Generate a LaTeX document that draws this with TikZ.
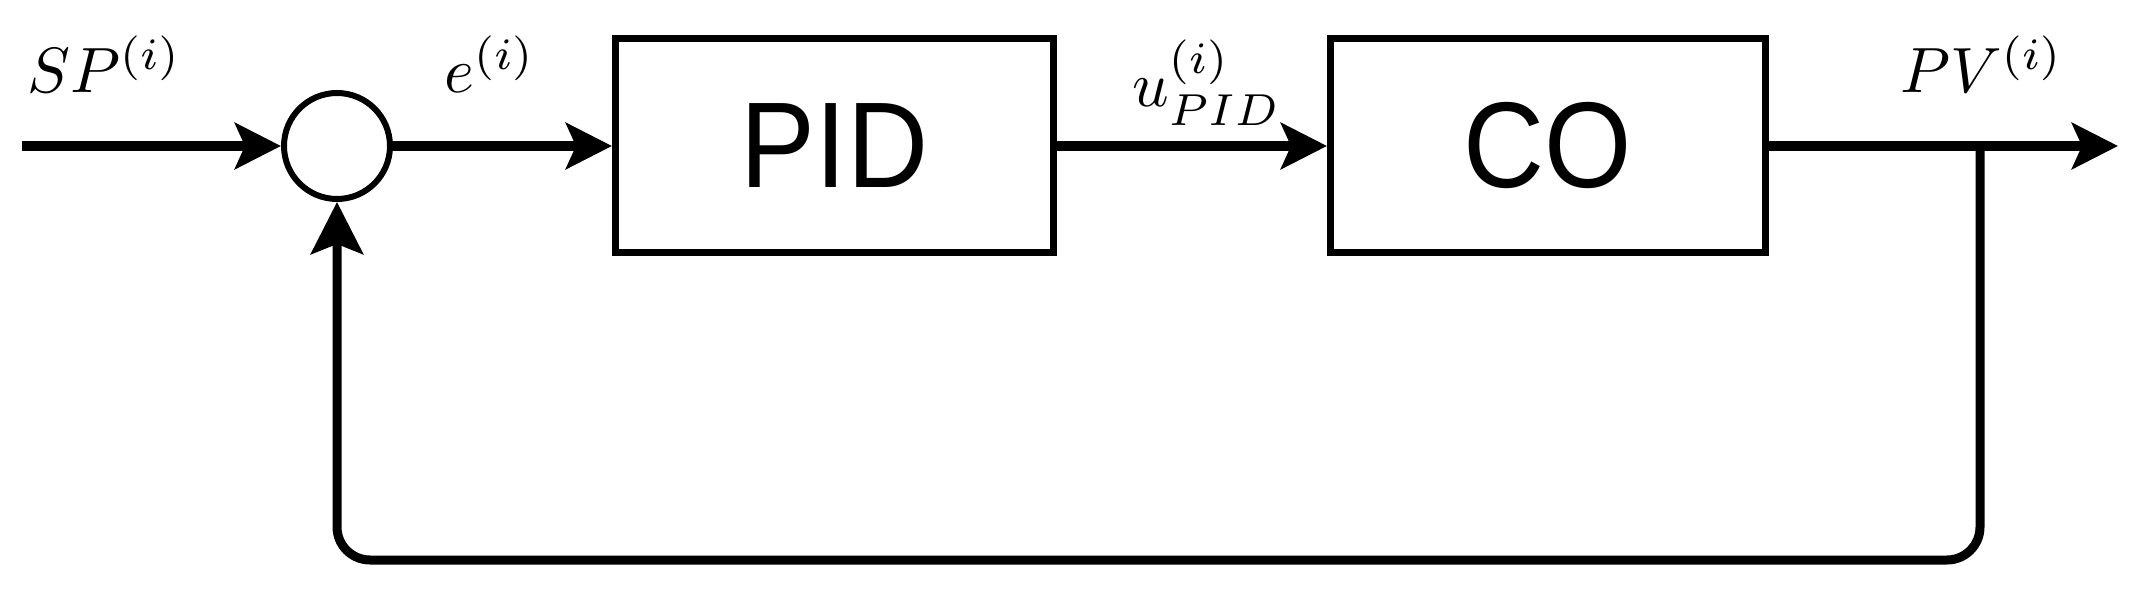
\documentclass[tikz,border=0pt]{standalone}
\usepackage{fontspec}
\newfontfamily\boxfont{Liberation Sans}
\usetikzlibrary{arrows.meta}
\tikzset{
  blk/.style={draw, line width=7pt, minimum width=438pt, minimum height=214pt, inner sep=0pt,
              font=\boxfont\fontsize{122}{126}\selectfont},
  sumnode/.style={draw, circle, line width=6pt, minimum size=106pt, inner sep=0pt},
  sig/.style={line width=10pt, -{Stealth[length=46pt,width=46pt,inset=10pt]}},
  fb/.style={line width=9pt, rounded corners=33pt, -{Stealth[length=52pt,width=52pt,inset=10pt]}},
  lbl/.style={anchor=base west, inner sep=0pt, scale=6.4},
}
\begin{document}
\begin{tikzpicture}[x=1pt,y=-1pt]
\useasboundingbox (0,0) rectangle (2141,593);
\node[sumnode] (sum) at (337,146) {};
\node[blk] (pid) at (834.5,146) {\scalebox{0.92}[1]{PID}};
\node[blk, minimum width=435pt] (co) at (1548,146) {\scalebox{0.92}[1]{CO}};
\coordinate (in) at (22,146);
\coordinate (out) at (2118,146);
\coordinate (br) at (1980,146);
\coordinate (bl) at (337,560);
\draw[sig] (in) -- (sum.west);
\draw[sig] (sum.east) -- (pid.west);
\draw[sig] (pid.east) -- (co.west);
\draw[sig] (co.east) -- (out);
\draw[fb] (br) |- (bl) -- (sum.south);
\node[lbl] (sp) at (26,93) {$SP^{(i)}$};
\node[lbl] (e) at (443,93) {$e^{(i)}$};
\node[lbl] (u) at (1131,107) {$u_{PID}^{(i)}$};
\node[lbl] (pv) at (1899,93) {$PV^{(i)}$};
\end{tikzpicture}
\end{document}
